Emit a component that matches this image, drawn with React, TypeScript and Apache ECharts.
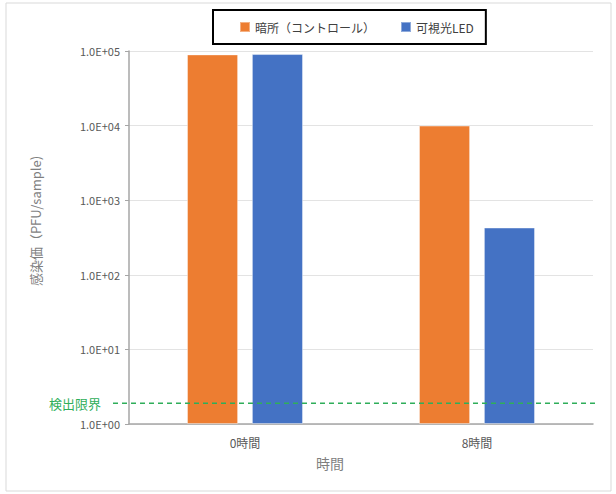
import React, { useEffect, useRef } from "react";
import * as echarts from "echarts";

const categories = ["0時間", "8時間"];
const seriesNames = ["暗所（コントロール）", "可視光LED"];
const darkValues = [90000, 10000];
const ledValues = [91000, 430];
const detectionLimit = 1.9;
const detectionLabel = "検出限界";
const yAxisTitle = "感染価（PFU/sample)";
const xAxisTitle = "時間";
const yMin = 1;
const yMax = 100000;

const FONT = "'Noto Sans CJK JP', 'Noto Sans', sans-serif";
const GREEN = "#2fae5a";

function buildOption(limitY: number | null) {
  const graphics: any[] = [
    {
      id: "frame",
      type: "rect",
      shape: { x: 6, y: 3, width: 605, height: 488 },
      style: { fill: "none", stroke: "#d9d9d9", lineWidth: 1 },
      silent: true,
    },
    {
      id: "ytitle",
      type: "text",
      x: 35,
      y: 221,
      rotation: Math.PI / 2,
      style: {
        text: yAxisTitle,
        fill: "#7f7f7f",
        font: `13px ${FONT}`,
        align: "center",
        verticalAlign: "middle",
      },
    },
    {
      id: "xtitle",
      type: "text",
      x: 330,
      y: 463,
      style: {
        text: xAxisTitle,
        fill: "#7f7f7f",
        font: `14px ${FONT}`,
        align: "center",
        verticalAlign: "middle",
      },
    },
  ];
  if (limitY !== null) {
    graphics.push(
      {
        id: "limitLine",
        type: "line",
        z: 100,
        shape: { x1: 113, y1: limitY, x2: 595, y2: limitY },
        style: { stroke: GREEN, lineWidth: 1.5, lineDash: [5, 4] },
      },
      {
        id: "limitText",
        type: "text",
        x: 101,
        y: limitY,
        style: {
          text: detectionLabel,
          fill: GREEN,
          font: `13px ${FONT}`,
          align: "right",
          verticalAlign: "middle",
        },
      }
    );
  }
  return {
    animation: false,
    textStyle: { fontFamily: FONT },
    color: ["#ed7d31", "#4472c4"],
    legend: {
      left: 213,
      top: 10,
      data: seriesNames,
      itemWidth: 10,
      itemHeight: 10,
      itemGap: 25,
      icon: "rect",
      padding: [11, 12, 11, 26],
      borderColor: "#000",
      borderWidth: 2,
      borderRadius: 0,
      textStyle: { color: "#404040", fontSize: 12, fontFamily: FONT },
    },
    grid: { left: 129, right: 23, top: 51, bottom: 70, containLabel: false },
    xAxis: {
      type: "category",
      data: categories,
      axisLine: { lineStyle: { color: "#a6a6a6", width: 1.5 } },
      axisTick: { show: false },
      axisLabel: { color: "#595959", fontSize: 12, margin: 12, fontFamily: FONT },
    },
    yAxis: {
      type: "log",
      logBase: 10,
      min: yMin,
      max: yMax,
      axisLine: { show: true, lineStyle: { color: "#a6a6a6", width: 1.5 } },
      axisTick: { show: true, length: 4, lineStyle: { color: "#a6a6a6" } },
      splitLine: { show: true, lineStyle: { color: "#e3e3e3", width: 1 } },
      axisLabel: {
        color: "#595959",
        fontSize: 11,
        margin: 9,
        fontFamily: FONT,
        formatter: (v: number) => {
          const e = Math.round(Math.log10(v));
          return "1.0E+" + String(e).padStart(2, "0");
        },
      },
    },
    series: [
      {
        name: seriesNames[0],
        type: "bar",
        data: darkValues,
        barGap: "27%",
        barCategoryGap: "50%",
        itemStyle: { borderColor: "rgba(255,255,255,0.4)", borderWidth: 1 },
      },
      {
        name: seriesNames[1],
        type: "bar",
        data: ledValues,
        barGap: "27%",
        barCategoryGap: "50%",
        itemStyle: { borderColor: "rgba(255,255,255,0.4)", borderWidth: 1 },
      },
    ],
    graphic: graphics,
  };
}

export default function App() {
  const ref = useRef<HTMLDivElement>(null);
  useEffect(() => {
    if (!ref.current) return;
    const chart = echarts.init(ref.current, undefined, { renderer: "svg" });
    chart.setOption(buildOption(null) as any);
    const y = chart.convertToPixel({ yAxisIndex: 0 }, detectionLimit) as number;
    chart.setOption(buildOption(y) as any);
    return () => chart.dispose();
  }, []);
  return (
    <div
      ref={ref}
      style={{ position: "fixed", left: 0, top: 0, width: 616, height: 494, background: "#fff" }}
    />
  );
}
